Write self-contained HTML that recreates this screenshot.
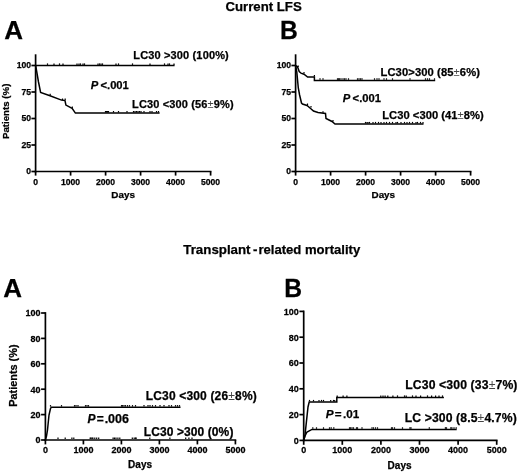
<!DOCTYPE html>
<html><head><meta charset="utf-8"><style>
html,body{margin:0;padding:0;background:#fff;}
svg{display:block;will-change:transform;}
text{font-family:"Liberation Sans",sans-serif;font-weight:bold;fill:#000;stroke:#000;stroke-width:0.25px;}
.pm{font-weight:normal;fill:#444;stroke:none;}
</style></head><body>
<svg width="520" height="473" viewBox="0 0 520 473">
<rect width="520" height="473" fill="#fff"/>
<g stroke="#000" stroke-linecap="butt" fill="#111">
<text x="225.50" y="11.00" font-size="13.2" text-anchor="start">Current LFS</text>
<text x="183.30" y="253.70" font-size="13.3" text-anchor="start">Transplant</text>
<text x="253.10" y="253.70" font-size="13.3" text-anchor="start">-</text>
<text x="258.40" y="253.70" font-size="13.1" text-anchor="start">related mortality</text>
<text x="4.15" y="39.00" font-size="26" text-anchor="start">A</text>
<text transform="translate(279.9,38.8) scale(0.95,1)" font-size="26">B</text>
<text x="3.20" y="296.80" font-size="26" text-anchor="start">A</text>
<text transform="translate(284.2,297.4) scale(0.95,1)" font-size="26">B</text>
<line x1="35.60" y1="54.30" x2="35.60" y2="172.35" stroke-width="1.7"/>
<line x1="34.75" y1="171.50" x2="211.45" y2="171.50" stroke-width="1.7"/>
<line x1="31.40" y1="171.50" x2="35.60" y2="171.50" stroke-width="1.7"/>
<text x="31.00" y="174.45" font-size="8.6" text-anchor="end">0</text>
<line x1="31.40" y1="145.00" x2="35.60" y2="145.00" stroke-width="1.7"/>
<text x="31.00" y="147.95" font-size="8.6" text-anchor="end">25</text>
<line x1="31.40" y1="118.50" x2="35.60" y2="118.50" stroke-width="1.7"/>
<text x="31.00" y="121.45" font-size="8.6" text-anchor="end">50</text>
<line x1="31.40" y1="92.00" x2="35.60" y2="92.00" stroke-width="1.7"/>
<text x="31.00" y="94.95" font-size="8.6" text-anchor="end">75</text>
<line x1="31.40" y1="65.50" x2="35.60" y2="65.50" stroke-width="1.7"/>
<text x="31.00" y="68.45" font-size="8.6" text-anchor="end">100</text>
<line x1="35.60" y1="171.50" x2="35.60" y2="175.60" stroke-width="1.7"/>
<text x="35.60" y="184.50" font-size="8.6" text-anchor="middle">0</text>
<line x1="70.60" y1="171.50" x2="70.60" y2="175.60" stroke-width="1.7"/>
<text x="70.60" y="184.50" font-size="8.6" text-anchor="middle">1000</text>
<line x1="105.60" y1="171.50" x2="105.60" y2="175.60" stroke-width="1.7"/>
<text x="105.60" y="184.50" font-size="8.6" text-anchor="middle">2000</text>
<line x1="140.60" y1="171.50" x2="140.60" y2="175.60" stroke-width="1.7"/>
<text x="140.60" y="184.50" font-size="8.6" text-anchor="middle">3000</text>
<line x1="175.60" y1="171.50" x2="175.60" y2="175.60" stroke-width="1.7"/>
<text x="175.60" y="184.50" font-size="8.6" text-anchor="middle">4000</text>
<line x1="210.60" y1="171.50" x2="210.60" y2="175.60" stroke-width="1.7"/>
<text x="210.60" y="184.50" font-size="8.6" text-anchor="middle">5000</text>
<text x="111.30" y="197.70" font-size="9.9" text-anchor="start">Days</text>
<text transform="translate(9.3,139.05) rotate(-90)" font-size="9.7">Patients (%)</text>
<polyline points="35.60,65.50 174.60,65.50" fill="none" stroke-width="1.5"/>
<line x1="47.50" y1="64.90" x2="47.50" y2="63.40" stroke-width="1.2"/>
<line x1="54.00" y1="64.90" x2="54.00" y2="63.40" stroke-width="1.2"/>
<line x1="59.50" y1="64.90" x2="59.50" y2="63.40" stroke-width="1.2"/>
<line x1="63.00" y1="64.90" x2="63.00" y2="63.40" stroke-width="1.2"/>
<line x1="77.00" y1="64.90" x2="77.00" y2="63.40" stroke-width="1.2"/>
<line x1="79.00" y1="64.90" x2="79.00" y2="63.40" stroke-width="1.2"/>
<line x1="80.50" y1="64.90" x2="80.50" y2="63.40" stroke-width="1.2"/>
<line x1="83.00" y1="64.90" x2="83.00" y2="63.40" stroke-width="1.2"/>
<line x1="84.50" y1="64.90" x2="84.50" y2="63.40" stroke-width="1.2"/>
<line x1="98.00" y1="64.90" x2="98.00" y2="63.40" stroke-width="1.2"/>
<line x1="99.50" y1="64.90" x2="99.50" y2="63.40" stroke-width="1.2"/>
<line x1="101.00" y1="64.90" x2="101.00" y2="63.40" stroke-width="1.2"/>
<line x1="102.50" y1="64.90" x2="102.50" y2="63.40" stroke-width="1.2"/>
<line x1="116.00" y1="64.90" x2="116.00" y2="63.40" stroke-width="1.2"/>
<line x1="118.50" y1="64.90" x2="118.50" y2="63.40" stroke-width="1.2"/>
<line x1="132.50" y1="64.90" x2="132.50" y2="63.40" stroke-width="1.2"/>
<line x1="150.00" y1="64.90" x2="150.00" y2="63.40" stroke-width="1.2"/>
<line x1="164.50" y1="64.90" x2="164.50" y2="63.40" stroke-width="1.2"/>
<line x1="168.00" y1="64.90" x2="168.00" y2="63.40" stroke-width="1.2"/>
<line x1="169.50" y1="64.90" x2="169.50" y2="63.40" stroke-width="1.2"/>
<line x1="174.00" y1="64.90" x2="174.00" y2="63.40" stroke-width="1.2"/>
<polyline points="35.60,65.50 36.60,70.80 38.50,82.00 40.60,92.50 50.00,95.70 61.50,100.10 65.00,100.60 65.90,105.10 72.10,108.30 75.40,113.10 159.60,113.10" fill="none" stroke-width="1.5"/>
<line x1="50.20" y1="95.30" x2="50.20" y2="93.80" stroke-width="1.2"/>
<line x1="62.50" y1="100.00" x2="62.50" y2="98.50" stroke-width="1.2"/>
<line x1="65.20" y1="100.00" x2="65.20" y2="98.50" stroke-width="1.2"/>
<line x1="72.30" y1="107.90" x2="72.30" y2="106.40" stroke-width="1.2"/>
<line x1="105.50" y1="112.50" x2="105.50" y2="111.00" stroke-width="1.2"/>
<line x1="106.50" y1="112.50" x2="106.50" y2="111.00" stroke-width="1.2"/>
<line x1="107.50" y1="112.50" x2="107.50" y2="111.00" stroke-width="1.2"/>
<line x1="108.50" y1="112.50" x2="108.50" y2="111.00" stroke-width="1.2"/>
<line x1="113.50" y1="112.50" x2="113.50" y2="111.00" stroke-width="1.2"/>
<line x1="118.50" y1="112.50" x2="118.50" y2="111.00" stroke-width="1.2"/>
<line x1="127.00" y1="112.50" x2="127.00" y2="111.00" stroke-width="1.2"/>
<line x1="133.50" y1="112.50" x2="133.50" y2="111.00" stroke-width="1.2"/>
<line x1="135.00" y1="112.50" x2="135.00" y2="111.00" stroke-width="1.2"/>
<line x1="136.50" y1="112.50" x2="136.50" y2="111.00" stroke-width="1.2"/>
<line x1="138.00" y1="112.50" x2="138.00" y2="111.00" stroke-width="1.2"/>
<line x1="139.50" y1="112.50" x2="139.50" y2="111.00" stroke-width="1.2"/>
<line x1="141.00" y1="112.50" x2="141.00" y2="111.00" stroke-width="1.2"/>
<line x1="144.00" y1="112.50" x2="144.00" y2="111.00" stroke-width="1.2"/>
<line x1="150.00" y1="112.50" x2="150.00" y2="111.00" stroke-width="1.2"/>
<line x1="152.00" y1="112.50" x2="152.00" y2="111.00" stroke-width="1.2"/>
<line x1="156.50" y1="112.50" x2="156.50" y2="111.00" stroke-width="1.2"/>
<line x1="158.50" y1="112.50" x2="158.50" y2="111.00" stroke-width="1.2"/>
<text x="133.30" y="58.60" font-size="11" text-anchor="start" textLength="95.45" lengthAdjust="spacing">LC30 &gt;300 (100%)</text>
<text x="132.06" y="108.00" font-size="11" text-anchor="start" textLength="101.59" lengthAdjust="spacing">LC30 &lt;300 (56<tspan class="pm">±</tspan>9%)</text>
<text x="90.80" y="88.80" font-size="11.2" text-anchor="start" font-style="italic">P</text>
<text x="100.50" y="88.80" font-size="11.2" text-anchor="start">&lt;.001</text>
<line x1="295.60" y1="54.30" x2="295.60" y2="172.35" stroke-width="1.7"/>
<line x1="294.75" y1="171.50" x2="471.45" y2="171.50" stroke-width="1.7"/>
<line x1="291.40" y1="171.50" x2="295.60" y2="171.50" stroke-width="1.7"/>
<text x="291.00" y="174.45" font-size="8.6" text-anchor="end">0</text>
<line x1="291.40" y1="145.00" x2="295.60" y2="145.00" stroke-width="1.7"/>
<text x="291.00" y="147.95" font-size="8.6" text-anchor="end">25</text>
<line x1="291.40" y1="118.50" x2="295.60" y2="118.50" stroke-width="1.7"/>
<text x="291.00" y="121.45" font-size="8.6" text-anchor="end">50</text>
<line x1="291.40" y1="92.00" x2="295.60" y2="92.00" stroke-width="1.7"/>
<text x="291.00" y="94.95" font-size="8.6" text-anchor="end">75</text>
<line x1="291.40" y1="65.50" x2="295.60" y2="65.50" stroke-width="1.7"/>
<text x="291.00" y="68.45" font-size="8.6" text-anchor="end">100</text>
<line x1="295.60" y1="171.50" x2="295.60" y2="175.60" stroke-width="1.7"/>
<text x="295.60" y="184.50" font-size="8.6" text-anchor="middle">0</text>
<line x1="330.60" y1="171.50" x2="330.60" y2="175.60" stroke-width="1.7"/>
<text x="330.60" y="184.50" font-size="8.6" text-anchor="middle">1000</text>
<line x1="365.60" y1="171.50" x2="365.60" y2="175.60" stroke-width="1.7"/>
<text x="365.60" y="184.50" font-size="8.6" text-anchor="middle">2000</text>
<line x1="400.60" y1="171.50" x2="400.60" y2="175.60" stroke-width="1.7"/>
<text x="400.60" y="184.50" font-size="8.6" text-anchor="middle">3000</text>
<line x1="435.60" y1="171.50" x2="435.60" y2="175.60" stroke-width="1.7"/>
<text x="435.60" y="184.50" font-size="8.6" text-anchor="middle">4000</text>
<line x1="470.60" y1="171.50" x2="470.60" y2="175.60" stroke-width="1.7"/>
<text x="470.60" y="184.50" font-size="8.6" text-anchor="middle">5000</text>
<text x="371.50" y="197.70" font-size="9.9" text-anchor="start">Days</text>
<polyline points="295.60,65.50 297.50,66.80 299.20,71.50 301.00,73.20 304.00,74.20 307.60,77.10 314.40,77.10 314.40,80.40 435.20,80.40" fill="none" stroke-width="1.5"/>
<line x1="298.20" y1="66.90" x2="298.20" y2="65.40" stroke-width="1.2"/>
<line x1="304.00" y1="73.60" x2="304.00" y2="72.10" stroke-width="1.2"/>
<line x1="314.40" y1="76.50" x2="314.40" y2="75.00" stroke-width="1.2"/>
<line x1="320.00" y1="79.80" x2="320.00" y2="78.30" stroke-width="1.2"/>
<line x1="323.00" y1="79.80" x2="323.00" y2="78.30" stroke-width="1.2"/>
<line x1="337.50" y1="79.80" x2="337.50" y2="78.30" stroke-width="1.2"/>
<line x1="338.50" y1="79.80" x2="338.50" y2="78.30" stroke-width="1.2"/>
<line x1="339.50" y1="79.80" x2="339.50" y2="78.30" stroke-width="1.2"/>
<line x1="341.00" y1="79.80" x2="341.00" y2="78.30" stroke-width="1.2"/>
<line x1="343.00" y1="79.80" x2="343.00" y2="78.30" stroke-width="1.2"/>
<line x1="344.50" y1="79.80" x2="344.50" y2="78.30" stroke-width="1.2"/>
<line x1="346.00" y1="79.80" x2="346.00" y2="78.30" stroke-width="1.2"/>
<line x1="348.50" y1="79.80" x2="348.50" y2="78.30" stroke-width="1.2"/>
<line x1="357.50" y1="79.80" x2="357.50" y2="78.30" stroke-width="1.2"/>
<line x1="359.00" y1="79.80" x2="359.00" y2="78.30" stroke-width="1.2"/>
<line x1="360.50" y1="79.80" x2="360.50" y2="78.30" stroke-width="1.2"/>
<line x1="362.00" y1="79.80" x2="362.00" y2="78.30" stroke-width="1.2"/>
<line x1="374.50" y1="79.80" x2="374.50" y2="78.30" stroke-width="1.2"/>
<line x1="377.00" y1="79.80" x2="377.00" y2="78.30" stroke-width="1.2"/>
<line x1="379.00" y1="79.80" x2="379.00" y2="78.30" stroke-width="1.2"/>
<line x1="384.00" y1="79.80" x2="384.00" y2="78.30" stroke-width="1.2"/>
<line x1="386.50" y1="79.80" x2="386.50" y2="78.30" stroke-width="1.2"/>
<line x1="392.50" y1="79.80" x2="392.50" y2="78.30" stroke-width="1.2"/>
<line x1="410.00" y1="79.80" x2="410.00" y2="78.30" stroke-width="1.2"/>
<line x1="425.50" y1="79.80" x2="425.50" y2="78.30" stroke-width="1.2"/>
<line x1="427.50" y1="79.80" x2="427.50" y2="78.30" stroke-width="1.2"/>
<line x1="429.50" y1="79.80" x2="429.50" y2="78.30" stroke-width="1.2"/>
<line x1="434.50" y1="79.80" x2="434.50" y2="78.30" stroke-width="1.2"/>
<polyline points="295.60,65.50 296.80,72.00 298.30,88.00 299.60,95.00 301.50,103.00 302.50,104.00 307.00,105.50 310.00,108.00 313.50,111.00 318.00,112.50 325.50,113.50 326.00,118.50 332.00,121.50 335.00,124.00 423.50,124.00" fill="none" stroke-width="1.5"/>
<line x1="307.50" y1="105.00" x2="307.50" y2="103.50" stroke-width="1.2"/>
<line x1="311.00" y1="107.60" x2="311.00" y2="106.10" stroke-width="1.2"/>
<line x1="323.00" y1="112.80" x2="323.00" y2="111.30" stroke-width="1.2"/>
<line x1="333.00" y1="121.60" x2="333.00" y2="120.10" stroke-width="1.2"/>
<line x1="365.50" y1="123.40" x2="365.50" y2="121.90" stroke-width="1.2"/>
<line x1="367.00" y1="123.40" x2="367.00" y2="121.90" stroke-width="1.2"/>
<line x1="368.00" y1="123.40" x2="368.00" y2="121.90" stroke-width="1.2"/>
<line x1="369.50" y1="123.40" x2="369.50" y2="121.90" stroke-width="1.2"/>
<line x1="373.00" y1="123.40" x2="373.00" y2="121.90" stroke-width="1.2"/>
<line x1="375.50" y1="123.40" x2="375.50" y2="121.90" stroke-width="1.2"/>
<line x1="378.50" y1="123.40" x2="378.50" y2="121.90" stroke-width="1.2"/>
<line x1="381.00" y1="123.40" x2="381.00" y2="121.90" stroke-width="1.2"/>
<line x1="384.00" y1="123.40" x2="384.00" y2="121.90" stroke-width="1.2"/>
<line x1="386.50" y1="123.40" x2="386.50" y2="121.90" stroke-width="1.2"/>
<line x1="389.50" y1="123.40" x2="389.50" y2="121.90" stroke-width="1.2"/>
<line x1="392.50" y1="123.40" x2="392.50" y2="121.90" stroke-width="1.2"/>
<line x1="396.00" y1="123.40" x2="396.00" y2="121.90" stroke-width="1.2"/>
<line x1="397.50" y1="123.40" x2="397.50" y2="121.90" stroke-width="1.2"/>
<line x1="401.00" y1="123.40" x2="401.00" y2="121.90" stroke-width="1.2"/>
<line x1="404.50" y1="123.40" x2="404.50" y2="121.90" stroke-width="1.2"/>
<line x1="407.00" y1="123.40" x2="407.00" y2="121.90" stroke-width="1.2"/>
<line x1="409.50" y1="123.40" x2="409.50" y2="121.90" stroke-width="1.2"/>
<line x1="412.50" y1="123.40" x2="412.50" y2="121.90" stroke-width="1.2"/>
<line x1="416.00" y1="123.40" x2="416.00" y2="121.90" stroke-width="1.2"/>
<line x1="417.50" y1="123.40" x2="417.50" y2="121.90" stroke-width="1.2"/>
<line x1="420.50" y1="123.40" x2="420.50" y2="121.90" stroke-width="1.2"/>
<line x1="423.00" y1="123.40" x2="423.00" y2="121.90" stroke-width="1.2"/>
<text x="380.45" y="75.50" font-size="11.2" text-anchor="start" textLength="99.48" lengthAdjust="spacing">LC30&gt;300 (85<tspan class="pm">±</tspan>6%)</text>
<text x="382.25" y="119.30" font-size="11.2" text-anchor="start" textLength="101.39" lengthAdjust="spacing">LC30 &lt;300 (41<tspan class="pm">±</tspan>8%)</text>
<text x="342.80" y="101.80" font-size="11.2" text-anchor="start" font-style="italic">P</text>
<text x="352.60" y="101.80" font-size="11.2" text-anchor="start">&lt;.001</text>
<line x1="45.40" y1="312.15" x2="45.40" y2="440.85" stroke-width="1.7"/>
<line x1="44.55" y1="440.00" x2="236.25" y2="440.00" stroke-width="1.7"/>
<line x1="41.10" y1="440.00" x2="45.40" y2="440.00" stroke-width="1.7"/>
<text transform="translate(40.50,443.30) scale(0.95,1)" font-size="9.5" text-anchor="end">0</text>
<line x1="41.10" y1="414.60" x2="45.40" y2="414.60" stroke-width="1.7"/>
<text transform="translate(40.50,417.90) scale(0.95,1)" font-size="9.5" text-anchor="end">20</text>
<line x1="41.10" y1="389.20" x2="45.40" y2="389.20" stroke-width="1.7"/>
<text transform="translate(40.50,392.50) scale(0.95,1)" font-size="9.5" text-anchor="end">40</text>
<line x1="41.10" y1="363.80" x2="45.40" y2="363.80" stroke-width="1.7"/>
<text transform="translate(40.50,367.10) scale(0.95,1)" font-size="9.5" text-anchor="end">60</text>
<line x1="41.10" y1="338.40" x2="45.40" y2="338.40" stroke-width="1.7"/>
<text transform="translate(40.50,341.70) scale(0.95,1)" font-size="9.5" text-anchor="end">80</text>
<line x1="41.10" y1="313.00" x2="45.40" y2="313.00" stroke-width="1.7"/>
<text transform="translate(40.50,316.30) scale(0.95,1)" font-size="9.5" text-anchor="end">100</text>
<line x1="45.40" y1="440.00" x2="45.40" y2="444.40" stroke-width="1.7"/>
<text transform="translate(45.40,453.40) scale(0.95,1)" font-size="9.5" text-anchor="middle">0</text>
<line x1="83.40" y1="440.00" x2="83.40" y2="444.40" stroke-width="1.7"/>
<text transform="translate(83.40,453.40) scale(0.95,1)" font-size="9.5" text-anchor="middle">1000</text>
<line x1="121.40" y1="440.00" x2="121.40" y2="444.40" stroke-width="1.7"/>
<text transform="translate(121.40,453.40) scale(0.95,1)" font-size="9.5" text-anchor="middle">2000</text>
<line x1="159.40" y1="440.00" x2="159.40" y2="444.40" stroke-width="1.7"/>
<text transform="translate(159.40,453.40) scale(0.95,1)" font-size="9.5" text-anchor="middle">3000</text>
<line x1="197.40" y1="440.00" x2="197.40" y2="444.40" stroke-width="1.7"/>
<text transform="translate(197.40,453.40) scale(0.95,1)" font-size="9.5" text-anchor="middle">4000</text>
<line x1="235.40" y1="440.00" x2="235.40" y2="444.40" stroke-width="1.7"/>
<text transform="translate(235.40,453.40) scale(0.95,1)" font-size="9.5" text-anchor="middle">5000</text>
<text x="128.10" y="467.90" font-size="10" text-anchor="start">Days</text>
<text transform="translate(16.9,406.8) rotate(-90)" font-size="10.9">Patients (%)</text>
<polyline points="45.40,440.00 46.50,436.00 47.50,430.00 49.00,415.00 50.50,408.50 51.30,407.20 180.50,407.20" fill="none" stroke-width="1.5"/>
<line x1="50.50" y1="406.60" x2="50.50" y2="405.10" stroke-width="1.2"/>
<line x1="61.50" y1="406.60" x2="61.50" y2="405.10" stroke-width="1.2"/>
<line x1="74.50" y1="406.60" x2="74.50" y2="405.10" stroke-width="1.2"/>
<line x1="76.00" y1="406.60" x2="76.00" y2="405.10" stroke-width="1.2"/>
<line x1="78.00" y1="406.60" x2="78.00" y2="405.10" stroke-width="1.2"/>
<line x1="85.50" y1="406.60" x2="85.50" y2="405.10" stroke-width="1.2"/>
<line x1="87.00" y1="406.60" x2="87.00" y2="405.10" stroke-width="1.2"/>
<line x1="88.50" y1="406.60" x2="88.50" y2="405.10" stroke-width="1.2"/>
<line x1="121.50" y1="406.60" x2="121.50" y2="405.10" stroke-width="1.2"/>
<line x1="122.50" y1="406.60" x2="122.50" y2="405.10" stroke-width="1.2"/>
<line x1="124.00" y1="406.60" x2="124.00" y2="405.10" stroke-width="1.2"/>
<line x1="125.50" y1="406.60" x2="125.50" y2="405.10" stroke-width="1.2"/>
<line x1="127.50" y1="406.60" x2="127.50" y2="405.10" stroke-width="1.2"/>
<line x1="129.50" y1="406.60" x2="129.50" y2="405.10" stroke-width="1.2"/>
<line x1="132.50" y1="406.60" x2="132.50" y2="405.10" stroke-width="1.2"/>
<line x1="135.50" y1="406.60" x2="135.50" y2="405.10" stroke-width="1.2"/>
<line x1="144.00" y1="406.60" x2="144.00" y2="405.10" stroke-width="1.2"/>
<line x1="148.00" y1="406.60" x2="148.00" y2="405.10" stroke-width="1.2"/>
<line x1="150.00" y1="406.60" x2="150.00" y2="405.10" stroke-width="1.2"/>
<line x1="152.50" y1="406.60" x2="152.50" y2="405.10" stroke-width="1.2"/>
<line x1="155.50" y1="406.60" x2="155.50" y2="405.10" stroke-width="1.2"/>
<line x1="160.00" y1="406.60" x2="160.00" y2="405.10" stroke-width="1.2"/>
<line x1="164.00" y1="406.60" x2="164.00" y2="405.10" stroke-width="1.2"/>
<line x1="169.00" y1="406.60" x2="169.00" y2="405.10" stroke-width="1.2"/>
<line x1="171.50" y1="406.60" x2="171.50" y2="405.10" stroke-width="1.2"/>
<line x1="175.50" y1="406.60" x2="175.50" y2="405.10" stroke-width="1.2"/>
<line x1="177.50" y1="406.60" x2="177.50" y2="405.10" stroke-width="1.2"/>
<line x1="179.50" y1="406.60" x2="179.50" y2="405.10" stroke-width="1.2"/>
<line x1="58.00" y1="439.00" x2="58.00" y2="437.50" stroke-width="1.2"/>
<line x1="65.20" y1="439.00" x2="65.20" y2="437.50" stroke-width="1.2"/>
<line x1="71.90" y1="439.00" x2="71.90" y2="437.50" stroke-width="1.2"/>
<line x1="73.80" y1="439.00" x2="73.80" y2="437.50" stroke-width="1.2"/>
<line x1="90.20" y1="439.00" x2="90.20" y2="437.50" stroke-width="1.2"/>
<line x1="92.10" y1="439.00" x2="92.10" y2="437.50" stroke-width="1.2"/>
<line x1="91.00" y1="439.00" x2="91.00" y2="437.50" stroke-width="1.2"/>
<line x1="92.90" y1="439.00" x2="92.90" y2="437.50" stroke-width="1.2"/>
<line x1="94.80" y1="439.00" x2="94.80" y2="437.50" stroke-width="1.2"/>
<line x1="96.70" y1="439.00" x2="96.70" y2="437.50" stroke-width="1.2"/>
<line x1="98.70" y1="439.00" x2="98.70" y2="437.50" stroke-width="1.2"/>
<line x1="113.10" y1="439.00" x2="113.10" y2="437.50" stroke-width="1.2"/>
<line x1="114.50" y1="439.00" x2="114.50" y2="437.50" stroke-width="1.2"/>
<line x1="116.00" y1="439.00" x2="116.00" y2="437.50" stroke-width="1.2"/>
<line x1="117.90" y1="439.00" x2="117.90" y2="437.50" stroke-width="1.2"/>
<line x1="119.80" y1="439.00" x2="119.80" y2="437.50" stroke-width="1.2"/>
<line x1="132.30" y1="439.00" x2="132.30" y2="437.50" stroke-width="1.2"/>
<line x1="134.20" y1="439.00" x2="134.20" y2="437.50" stroke-width="1.2"/>
<line x1="135.70" y1="439.00" x2="135.70" y2="437.50" stroke-width="1.2"/>
<line x1="136.00" y1="439.00" x2="136.00" y2="437.50" stroke-width="1.2"/>
<line x1="149.80" y1="439.00" x2="149.80" y2="437.50" stroke-width="1.2"/>
<line x1="169.90" y1="439.00" x2="169.90" y2="437.50" stroke-width="1.2"/>
<line x1="185.70" y1="439.00" x2="185.70" y2="437.50" stroke-width="1.2"/>
<line x1="188.90" y1="439.00" x2="188.90" y2="437.50" stroke-width="1.2"/>
<line x1="192.00" y1="439.00" x2="192.00" y2="437.50" stroke-width="1.2"/>
<text x="145.70" y="399.50" font-size="12" text-anchor="start" textLength="111.01" lengthAdjust="spacing">LC30 &lt;300 (26<tspan class="pm">±</tspan>8%)</text>
<text x="143.70" y="436.20" font-size="12" text-anchor="start" textLength="89.68" lengthAdjust="spacing">LC30 &gt;300 (0%)</text>
<text x="87.40" y="422.90" font-size="12" text-anchor="start" font-style="italic">P</text>
<text x="96.65" y="422.90" font-size="12" text-anchor="start">=</text>
<text x="104.65" y="422.90" font-size="12.5" text-anchor="start">.006</text>
<line x1="303.70" y1="310.55" x2="303.70" y2="441.25" stroke-width="1.7"/>
<line x1="302.85" y1="440.40" x2="497.55" y2="440.40" stroke-width="1.7"/>
<line x1="299.40" y1="440.40" x2="303.70" y2="440.40" stroke-width="1.7"/>
<text transform="translate(298.80,443.70) scale(0.95,1)" font-size="9.5" text-anchor="end">0</text>
<line x1="299.40" y1="414.60" x2="303.70" y2="414.60" stroke-width="1.7"/>
<text transform="translate(298.80,417.90) scale(0.95,1)" font-size="9.5" text-anchor="end">20</text>
<line x1="299.40" y1="388.80" x2="303.70" y2="388.80" stroke-width="1.7"/>
<text transform="translate(298.80,392.10) scale(0.95,1)" font-size="9.5" text-anchor="end">40</text>
<line x1="299.40" y1="363.00" x2="303.70" y2="363.00" stroke-width="1.7"/>
<text transform="translate(298.80,366.30) scale(0.95,1)" font-size="9.5" text-anchor="end">60</text>
<line x1="299.40" y1="337.20" x2="303.70" y2="337.20" stroke-width="1.7"/>
<text transform="translate(298.80,340.50) scale(0.95,1)" font-size="9.5" text-anchor="end">80</text>
<line x1="299.40" y1="311.40" x2="303.70" y2="311.40" stroke-width="1.7"/>
<text transform="translate(298.80,314.70) scale(0.95,1)" font-size="9.5" text-anchor="end">100</text>
<line x1="303.70" y1="440.40" x2="303.70" y2="444.80" stroke-width="1.7"/>
<text transform="translate(303.70,453.40) scale(0.95,1)" font-size="9.5" text-anchor="middle">0</text>
<line x1="342.30" y1="440.40" x2="342.30" y2="444.80" stroke-width="1.7"/>
<text transform="translate(342.30,453.40) scale(0.95,1)" font-size="9.5" text-anchor="middle">1000</text>
<line x1="380.90" y1="440.40" x2="380.90" y2="444.80" stroke-width="1.7"/>
<text transform="translate(380.90,453.40) scale(0.95,1)" font-size="9.5" text-anchor="middle">2000</text>
<line x1="419.50" y1="440.40" x2="419.50" y2="444.80" stroke-width="1.7"/>
<text transform="translate(419.50,453.40) scale(0.95,1)" font-size="9.5" text-anchor="middle">3000</text>
<line x1="458.10" y1="440.40" x2="458.10" y2="444.80" stroke-width="1.7"/>
<text transform="translate(458.10,453.40) scale(0.95,1)" font-size="9.5" text-anchor="middle">4000</text>
<line x1="496.70" y1="440.40" x2="496.70" y2="444.80" stroke-width="1.7"/>
<text transform="translate(496.70,453.40) scale(0.95,1)" font-size="9.5" text-anchor="middle">5000</text>
<text x="387.60" y="468.60" font-size="10" text-anchor="start">Days</text>
<polyline points="303.70,440.40 305.00,435.00 308.00,407.00 309.20,402.00 336.80,402.00 336.80,397.50 443.90,397.50" fill="none" stroke-width="1.5"/>
<line x1="309.50" y1="401.40" x2="309.50" y2="399.90" stroke-width="1.2"/>
<line x1="313.50" y1="401.40" x2="313.50" y2="399.90" stroke-width="1.2"/>
<line x1="319.00" y1="401.40" x2="319.00" y2="399.90" stroke-width="1.2"/>
<line x1="321.50" y1="401.40" x2="321.50" y2="399.90" stroke-width="1.2"/>
<line x1="323.50" y1="401.40" x2="323.50" y2="399.90" stroke-width="1.2"/>
<line x1="333.50" y1="401.40" x2="333.50" y2="399.90" stroke-width="1.2"/>
<line x1="330.70" y1="401.40" x2="330.70" y2="399.90" stroke-width="1.2"/>
<line x1="334.70" y1="401.40" x2="334.70" y2="399.90" stroke-width="1.2"/>
<line x1="337.20" y1="396.90" x2="337.20" y2="395.40" stroke-width="1.2"/>
<line x1="343.10" y1="396.90" x2="343.10" y2="395.40" stroke-width="1.2"/>
<line x1="346.90" y1="396.90" x2="346.90" y2="395.40" stroke-width="1.2"/>
<line x1="380.80" y1="396.90" x2="380.80" y2="395.40" stroke-width="1.2"/>
<line x1="383.00" y1="396.90" x2="383.00" y2="395.40" stroke-width="1.2"/>
<line x1="385.10" y1="396.90" x2="385.10" y2="395.40" stroke-width="1.2"/>
<line x1="387.80" y1="396.90" x2="387.80" y2="395.40" stroke-width="1.2"/>
<line x1="392.90" y1="396.90" x2="392.90" y2="395.40" stroke-width="1.2"/>
<line x1="397.50" y1="396.90" x2="397.50" y2="395.40" stroke-width="1.2"/>
<line x1="404.50" y1="396.90" x2="404.50" y2="395.40" stroke-width="1.2"/>
<line x1="406.20" y1="396.90" x2="406.20" y2="395.40" stroke-width="1.2"/>
<line x1="412.50" y1="396.90" x2="412.50" y2="395.40" stroke-width="1.2"/>
<line x1="416.00" y1="396.90" x2="416.00" y2="395.40" stroke-width="1.2"/>
<line x1="420.60" y1="396.90" x2="420.60" y2="395.40" stroke-width="1.2"/>
<line x1="427.50" y1="396.90" x2="427.50" y2="395.40" stroke-width="1.2"/>
<line x1="431.60" y1="396.90" x2="431.60" y2="395.40" stroke-width="1.2"/>
<line x1="435.60" y1="396.90" x2="435.60" y2="395.40" stroke-width="1.2"/>
<line x1="439.00" y1="396.90" x2="439.00" y2="395.40" stroke-width="1.2"/>
<line x1="442.50" y1="396.90" x2="442.50" y2="395.40" stroke-width="1.2"/>
<polyline points="303.70,440.40 305.00,436.00 307.00,432.00 312.00,429.40 456.70,429.40" fill="none" stroke-width="1.5"/>
<line x1="312.80" y1="428.80" x2="312.80" y2="427.30" stroke-width="1.2"/>
<line x1="316.50" y1="428.80" x2="316.50" y2="427.30" stroke-width="1.2"/>
<line x1="323.50" y1="428.80" x2="323.50" y2="427.30" stroke-width="1.2"/>
<line x1="329.50" y1="428.80" x2="329.50" y2="427.30" stroke-width="1.2"/>
<line x1="331.20" y1="428.80" x2="331.20" y2="427.30" stroke-width="1.2"/>
<line x1="333.80" y1="428.80" x2="333.80" y2="427.30" stroke-width="1.2"/>
<line x1="349.50" y1="428.80" x2="349.50" y2="427.30" stroke-width="1.2"/>
<line x1="350.50" y1="428.80" x2="350.50" y2="427.30" stroke-width="1.2"/>
<line x1="352.00" y1="428.80" x2="352.00" y2="427.30" stroke-width="1.2"/>
<line x1="353.50" y1="428.80" x2="353.50" y2="427.30" stroke-width="1.2"/>
<line x1="356.50" y1="428.80" x2="356.50" y2="427.30" stroke-width="1.2"/>
<line x1="357.50" y1="428.80" x2="357.50" y2="427.30" stroke-width="1.2"/>
<line x1="362.00" y1="428.80" x2="362.00" y2="427.30" stroke-width="1.2"/>
<line x1="372.00" y1="428.80" x2="372.00" y2="427.30" stroke-width="1.2"/>
<line x1="373.50" y1="428.80" x2="373.50" y2="427.30" stroke-width="1.2"/>
<line x1="375.50" y1="428.80" x2="375.50" y2="427.30" stroke-width="1.2"/>
<line x1="377.50" y1="428.80" x2="377.50" y2="427.30" stroke-width="1.2"/>
<line x1="391.50" y1="428.80" x2="391.50" y2="427.30" stroke-width="1.2"/>
<line x1="392.50" y1="428.80" x2="392.50" y2="427.30" stroke-width="1.2"/>
<line x1="394.50" y1="428.80" x2="394.50" y2="427.30" stroke-width="1.2"/>
<line x1="402.50" y1="428.80" x2="402.50" y2="427.30" stroke-width="1.2"/>
<line x1="409.90" y1="428.80" x2="409.90" y2="427.30" stroke-width="1.2"/>
<line x1="411.00" y1="428.80" x2="411.00" y2="427.30" stroke-width="1.2"/>
<line x1="429.30" y1="428.80" x2="429.30" y2="427.30" stroke-width="1.2"/>
<line x1="445.40" y1="428.80" x2="445.40" y2="427.30" stroke-width="1.2"/>
<line x1="446.50" y1="428.80" x2="446.50" y2="427.30" stroke-width="1.2"/>
<line x1="450.80" y1="428.80" x2="450.80" y2="427.30" stroke-width="1.2"/>
<line x1="451.90" y1="428.80" x2="451.90" y2="427.30" stroke-width="1.2"/>
<line x1="454.00" y1="428.80" x2="454.00" y2="427.30" stroke-width="1.2"/>
<line x1="456.20" y1="428.80" x2="456.20" y2="427.30" stroke-width="1.2"/>
<text x="405.20" y="389.30" font-size="12.2" text-anchor="start" textLength="112.22" lengthAdjust="spacing">LC30 &lt;300 (33<tspan class="pm">±</tspan>7%)</text>
<text x="404.70" y="421.50" font-size="12.2" text-anchor="start" textLength="112.01" lengthAdjust="spacing">LC &gt;300 (8.5<tspan class="pm">±</tspan>4.7%)</text>
<text x="325.70" y="418.40" font-size="11.7" text-anchor="start" font-style="italic">P</text>
<text x="334.70" y="418.40" font-size="11.7" text-anchor="start">=</text>
<text x="343.10" y="418.40" font-size="11.7" text-anchor="start">.01</text>
</g>
</svg>
</body></html>
